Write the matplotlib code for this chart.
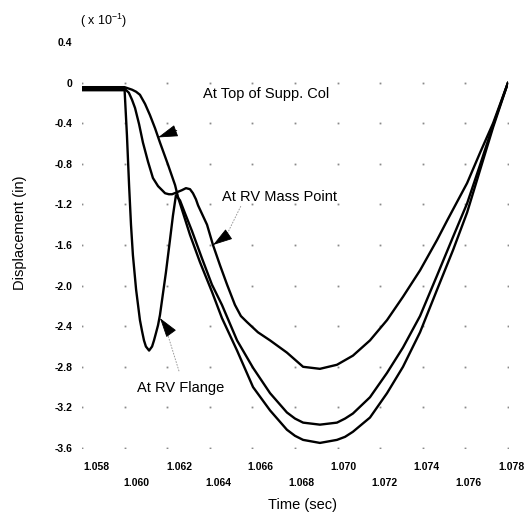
import matplotlib
matplotlib.use("Agg")
import matplotlib.pyplot as plt
from matplotlib.transforms import ScaledTranslation

plt.rcParams['font.family'] = ['Liberation Sans', 'DejaVu Sans']
plt.rcParams['mathtext.default'] = 'regular'

# ---- data (displacement in units of 1e-1 in) ----
t_mass = [1.05800, 1.06000, 1.06020, 1.06035, 1.06049, 1.06068, 1.06086, 1.06110, 1.06133,
          1.06157, 1.06176, 1.06190, 1.06208, 1.06223, 1.06246, 1.06269, 1.06288, 1.06307,
          1.06321, 1.06335, 1.06345, 1.06387, 1.06415, 1.06448, 1.06481, 1.06518, 1.06546,
          1.06575, 1.06626, 1.06683, 1.06762, 1.06838, 1.06917, 1.06997, 1.07072, 1.07152,
          1.07232, 1.07307, 1.07387, 1.07467, 1.07514, 1.07608, 1.07669, 1.07730, 1.07800]
v_mass = [-0.06, -0.06, -0.10, -0.17, -0.25, -0.41, -0.59, -0.78, -0.94,
          -1.02, -1.06, -1.09, -1.10, -1.10, -1.08, -1.06, -1.04, -1.05,
          -1.09, -1.15, -1.21, -1.40, -1.60, -1.80, -1.99, -2.19, -2.30,
          -2.36, -2.46, -2.54, -2.66, -2.80, -2.82, -2.78, -2.69, -2.54,
          -2.34, -2.11, -1.85, -1.55, -1.36, -0.99, -0.69, -0.40, 0.0]

t_supp = [1.05800, 1.06000, 1.06035, 1.06054, 1.06072, 1.06096, 1.06119, 1.06143, 1.06166,
          1.06185, 1.06204, 1.06237, 1.06251, 1.06307, 1.06354, 1.06410, 1.06457, 1.06528,
          1.06603, 1.06683, 1.06762, 1.06800, 1.06838, 1.06917, 1.06997, 1.07035, 1.07072,
          1.07152, 1.07232, 1.07307, 1.07387, 1.07467, 1.07542, 1.07608, 1.07669, 1.07730,
          1.07800]
v_supp = [-0.045, -0.045, -0.07, -0.09, -0.12, -0.21, -0.32, -0.45, -0.59,
          -0.70, -0.81, -1.01, -1.13, -1.50, -1.77, -2.06, -2.32, -2.64,
          -3.00, -3.23, -3.42, -3.48, -3.52, -3.55, -3.52, -3.49, -3.44,
          -3.30, -3.06, -2.80, -2.46, -2.04, -1.65, -1.28, -0.86, -0.44,
          0.0]

t_flange = [1.05800, 1.06000, 1.06011, 1.06021, 1.06030, 1.06039, 1.06054, 1.06072, 1.06082,
            1.06091, 1.06100, 1.06115, 1.06129, 1.06138, 1.06147, 1.06157, 1.06166, 1.06176,
            1.06194, 1.06213, 1.06227, 1.06241, 1.06260, 1.06284, 1.06316, 1.06363, 1.06410,
            1.06457, 1.06528, 1.06603, 1.06683, 1.06762, 1.06800, 1.06838, 1.06917, 1.06997,
            1.07035, 1.07072, 1.07152, 1.07232, 1.07307, 1.07387, 1.07467, 1.07542, 1.07608,
            1.07669, 1.07730, 1.07800]
v_flange = [-0.075, -0.075, -0.52, -1.01, -1.40, -1.70, -2.04, -2.34, -2.45,
            -2.54, -2.60, -2.64, -2.60, -2.54, -2.47, -2.39, -2.29, -2.14,
            -1.87, -1.55, -1.31, -1.11, -1.16, -1.29, -1.46, -1.73, -1.99,
            -2.19, -2.54, -2.81, -3.06, -3.25, -3.31, -3.35, -3.37, -3.35,
            -3.31, -3.26, -3.10, -2.86, -2.61, -2.30, -1.90, -1.52, -1.19,
            -0.81, -0.42, 0.0]

x_ticks = [1.058, 1.060, 1.062, 1.064, 1.066, 1.068, 1.070, 1.072, 1.074, 1.076, 1.078]
x_labels = ["1.058", "1.060", "1.062", "1.064", "1.066", "1.068", "1.070", "1.072",
            "1.074", "1.076", "1.078"]
y_ticks = [0.4, 0.0, -0.4, -0.8, -1.2, -1.6, -2.0, -2.4, -2.8, -3.2, -3.6]
y_labels = ["0.4", "0", "-0.4", "-0.8", "-1.2", "-1.6", "-2.0", "-2.4", "-2.8", "-3.2", "-3.6"]

# ---- figure ----
fig = plt.figure(figsize=(5.32, 5.16), dpi=100)
ax = fig.add_axes([82 / 532, 1 - 448 / 516, 426 / 532, 406 / 516])
ax.set_xlim(1.058, 1.078)
ax.set_ylim(-3.6, 0.4)
for s in ax.spines.values():
    s.set_visible(False)

# dotted grid (dots at intersections)
for xt in x_ticks:
    for yt in y_ticks[1:]:
        ax.plot(xt, yt, marker='s', ms=1.3, color='#8a8a8a', mew=0, zorder=1)

lw = 1.7
for tt, vv in ((t_supp, v_supp), (t_mass, v_mass), (t_flange, v_flange)):
    ax.plot(tt, vv, color='black', lw=lw, solid_joinstyle='round',
            solid_capstyle='round', zorder=3)

ax.set_xticks(x_ticks)
ax.set_xticklabels(x_labels, fontsize=7.5, fontweight='bold')
ax.set_yticks(y_ticks)
ax.set_yticklabels(y_labels, fontsize=7.5, fontweight='bold')
ax.tick_params(axis='both', length=0)
ax.tick_params(axis='y', pad=7)
ax.tick_params(axis='x', pad=10)

x_shift_px = [14, 12, 12, 9, 8, 6, 6, 4, 4, 3, 3]
for i, lbl in enumerate(ax.get_xticklabels()):
    dy = -16 if i % 2 == 1 else 0
    lbl.set_transform(lbl.get_transform() +
                      ScaledTranslation(x_shift_px[i] / 100, dy / 100, fig.dpi_scale_trans))

fig.text(20 / 532, 1 - 233 / 516, "Displacement (in)", rotation=90,
         ha='center', va='center', fontsize=10.5)
fig.text(303 / 532, 1 - 505 / 516, "Time (sec)", ha='center', va='center', fontsize=10.5)
fig.text(80 / 532, 1 - 21 / 516, "( x 10$^{-1}$)", ha='left', va='center', fontsize=9)

# curve labels
ax.text(1.06368, -0.11, "At Top of Supp. Col", fontsize=10.5, ha='left', va='center')
ax.text(1.06457, -1.13, "At RV Mass Point", fontsize=10.5, ha='left', va='center')
ax.text(1.06058, -3.01, "At RV Flange", fontsize=10.5, ha='left', va='center')

head = dict(arrowstyle='-|>,head_length=1.25,head_width=0.38', fc='black', ec='black',
            lw=0.6, shrinkA=0, shrinkB=0, mutation_scale=10)
leader = dict(arrowstyle='-', color='#9a9a9a', lw=0.7, ls=(0, (1, 2)), shrinkA=0, shrinkB=0)

# Top of Supp. Col arrow
ax.annotate('', xy=(1.06157, -0.54), xytext=(13.5, 5.0), textcoords='offset points',
            arrowprops=head, zorder=4)
# RV Mass Point arrow + leader
ax.annotate('', xy=(1.06415, -1.60), xytext=(10.8, 7.4), textcoords='offset points',
            arrowprops=head, zorder=4)
ax.annotate('', xy=(1.06484, -1.48), xytext=(1.06545, -1.22), arrowprops=leader, zorder=2)
# RV Flange arrow + leader
ax.annotate('', xy=(1.06166, -2.32), xytext=(7.6, -10.5), textcoords='offset points',
            arrowprops=head, zorder=4)
ax.annotate('', xy=(1.06205, -2.50), xytext=(1.06255, -2.84), arrowprops=leader, zorder=2)

fig.savefig("out.png", dpi=100)
